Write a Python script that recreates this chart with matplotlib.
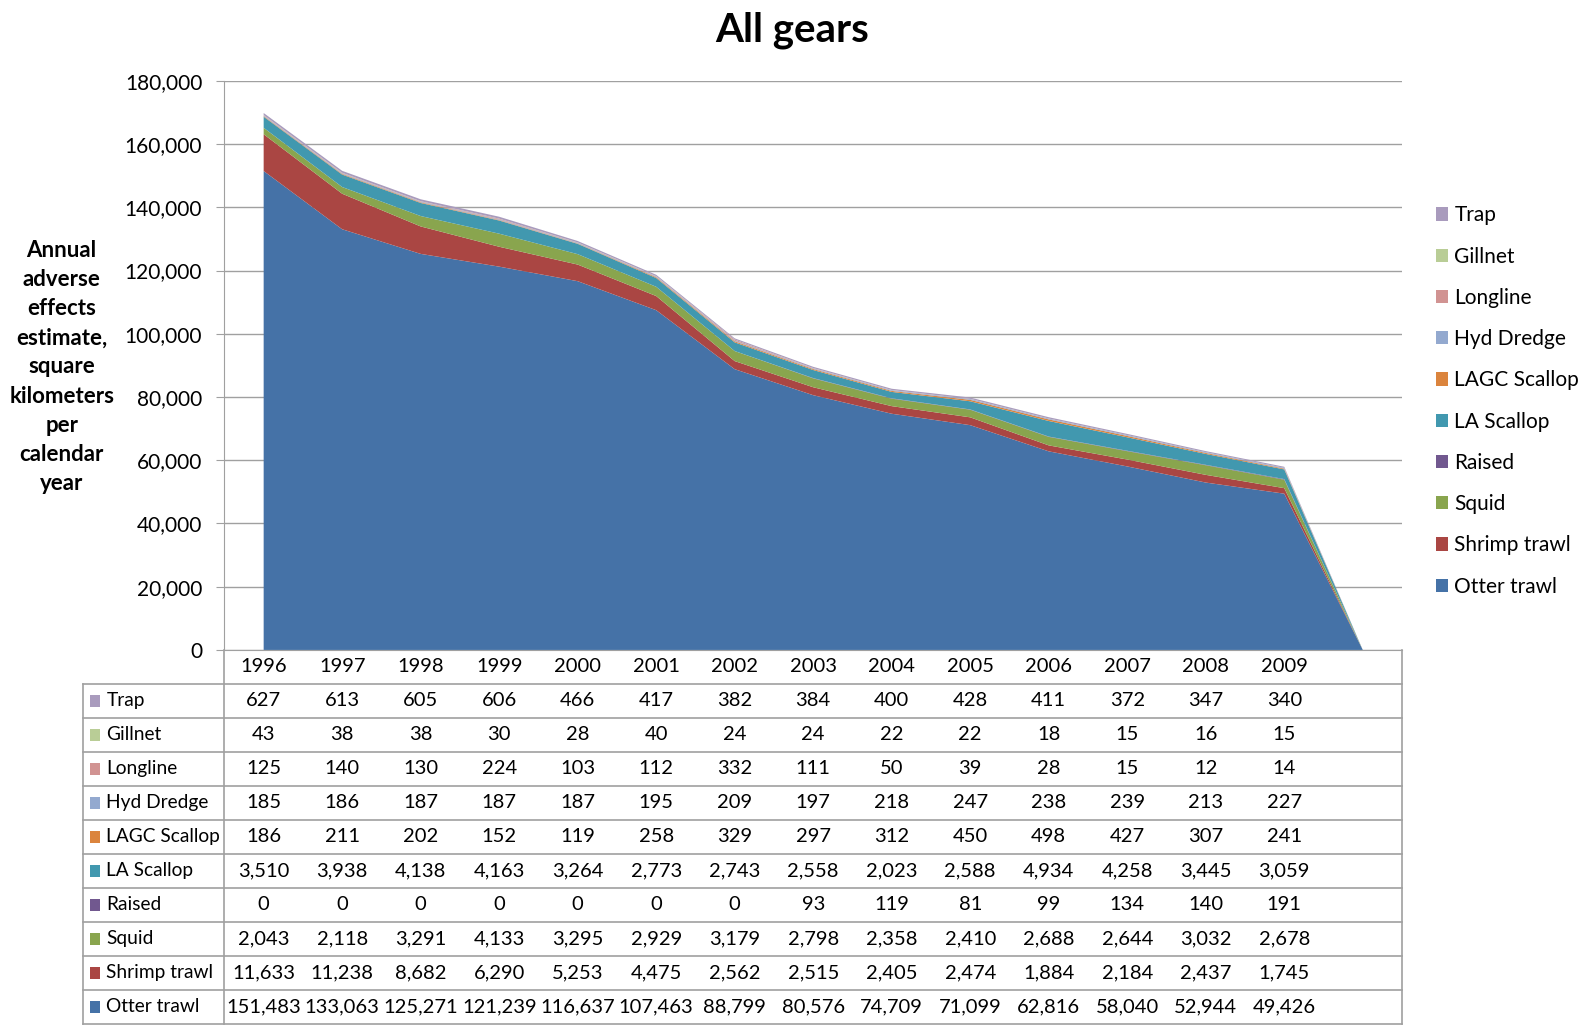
import numpy as np
import matplotlib
matplotlib.use("Agg")
import matplotlib.pyplot as plt
from matplotlib.patches import Patch, Rectangle

plt.rcParams['font.family'] = ['Lato', 'DejaVu Sans']

years = ['1996', '1997', '1998', '1999', '2000', '2001', '2002',
         '2003', '2004', '2005', '2006', '2007', '2008', '2009']

# series, bottom of the stack first
otter_trawl = [151483, 133063, 125271, 121239, 116637, 107463, 88799, 80576, 74709, 71099, 62816, 58040, 52944, 49426]
shrimp_trawl = [11633, 11238, 8682, 6290, 5253, 4475, 2562, 2515, 2405, 2474, 1884, 2184, 2437, 1745]
squid = [2043, 2118, 3291, 4133, 3295, 2929, 3179, 2798, 2358, 2410, 2688, 2644, 3032, 2678]
raised = [0, 0, 0, 0, 0, 0, 0, 93, 119, 81, 99, 134, 140, 191]
la_scallop = [3510, 3938, 4138, 4163, 3264, 2773, 2743, 2558, 2023, 2588, 4934, 4258, 3445, 3059]
lagc_scallop = [186, 211, 202, 152, 119, 258, 329, 297, 312, 450, 498, 427, 307, 241]
hyd_dredge = [185, 186, 187, 187, 187, 195, 209, 197, 218, 247, 238, 239, 213, 227]
longline = [125, 140, 130, 224, 103, 112, 332, 111, 50, 39, 28, 15, 12, 14]
gillnet = [43, 38, 38, 30, 28, 40, 24, 24, 22, 22, 18, 15, 16, 15]
trap = [627, 613, 605, 606, 466, 417, 382, 384, 400, 428, 411, 372, 347, 340]

names = ['Otter trawl', 'Shrimp trawl', 'Squid', 'Raised', 'LA Scallop',
         'LAGC Scallop', 'Hyd Dredge', 'Longline', 'Gillnet', 'Trap']
series = [otter_trawl, shrimp_trawl, squid, raised, la_scallop,
          lagc_scallop, hyd_dredge, longline, gillnet, trap]
colors = ['#4572A7', '#AA4643', '#89A54E', '#71588F', '#4198AF',
          '#DB843D', '#93A9CF', '#D19392', '#B9CD96', '#A99BBD']

# one extra empty category at the end (blank in the source table)
n_cat = len(years) + 1
x = np.arange(n_cat) + 0.5
stack = np.array([list(s) + [0] for s in series], dtype=float)

W, H = 1568.0, 1019.0
fig = plt.figure(figsize=(15.85, 10.30), dpi=100)

def fx(px):
    return px / W

def fy(py):
    return 1 - py / H

grid_c = '#A0A0A0'

# plot area
ax = fig.add_axes([fx(222), fy(643), fx(1387) - fx(222), fy(80) - fy(643)])
ax.stackplot(x, stack, colors=colors, linewidth=0)
ax.set_xlim(0, n_cat)
ax.set_ylim(0, 180000)
ax.set_yticks(np.arange(0, 180001, 20000))
ax.yaxis.set_major_formatter(matplotlib.ticker.FuncFormatter(lambda v, p: f"{int(v):,}"))
ax.tick_params(axis='y', labelsize=15, length=6, color=grid_c, pad=10)
ax.set_xticks([])
ax.grid(axis='y', color=grid_c, linewidth=1)
ax.set_axisbelow(True)
for side in ['top', 'right']:
    ax.spines[side].set_visible(False)
ax.spines['left'].set_color(grid_c)
ax.spines['bottom'].set_color(grid_c)

# title and y label
fig.text(0.5, fy(30), 'All gears', ha='center', va='center', fontsize=29, fontweight='bold')
fig.text(fx(61), fy(363), 'Annual\nadverse\neffects\nestimate,\nsquare\nkilometers\nper\ncalendar\nyear',
         ha='center', va='center', fontsize=16, fontweight='bold', linespacing=1.48)

# legend on the right
handles = [Patch(facecolor=c, edgecolor='none', label=n) for n, c in zip(names, colors)][::-1]
fig.legend(handles=handles, loc='upper left', bbox_to_anchor=(fx(1412), fy(195)),
           frameon=False, fontsize=15, handlelength=0.6, handleheight=0.6,
           handletextpad=0.3, labelspacing=1.02, borderaxespad=0)

# data table below the chart
cw = (1387 - 222) / n_cat
lab_w = (222 - 82) / cw
tab = fig.add_axes([fx(82), fy(1013), fx(1387) - fx(82), fy(643) - fy(1013)])
tab.set_xlim(-lab_w, n_cat)
tab.set_ylim(11, 0)
tab.axis('off')

line_kw = dict(color=grid_c, linewidth=1.2, clip_on=False)
tab.plot([0, 0], [0, 11], **line_kw)
tab.plot([n_cat, n_cat], [0, 11], **line_kw)
tab.plot([-lab_w, -lab_w], [1, 11], **line_kw)
for r in range(1, 12):
    tab.plot([-lab_w, n_cat], [r, r], **line_kw)

for j, yr in enumerate(years):
    tab.text(j + 0.5, 0.5, yr, ha='center', va='center', fontsize=14.5)

rows = list(zip(names, series, colors))[::-1]
for i, (name, vals, c) in enumerate(rows):
    yc = i + 1.5
    tab.add_patch(Rectangle((-lab_w + 0.09, yc - 0.17), 0.13, 0.34, facecolor=c, edgecolor='none'))
    tab.text(-lab_w + 0.3, yc, name, ha='left', va='center', fontsize=13.8)
    for j, v in enumerate(vals):
        tab.text(j + 0.5, yc, f"{v:,}", ha='center', va='center', fontsize=14.5)

fig.savefig('out.png', dpi=100)
